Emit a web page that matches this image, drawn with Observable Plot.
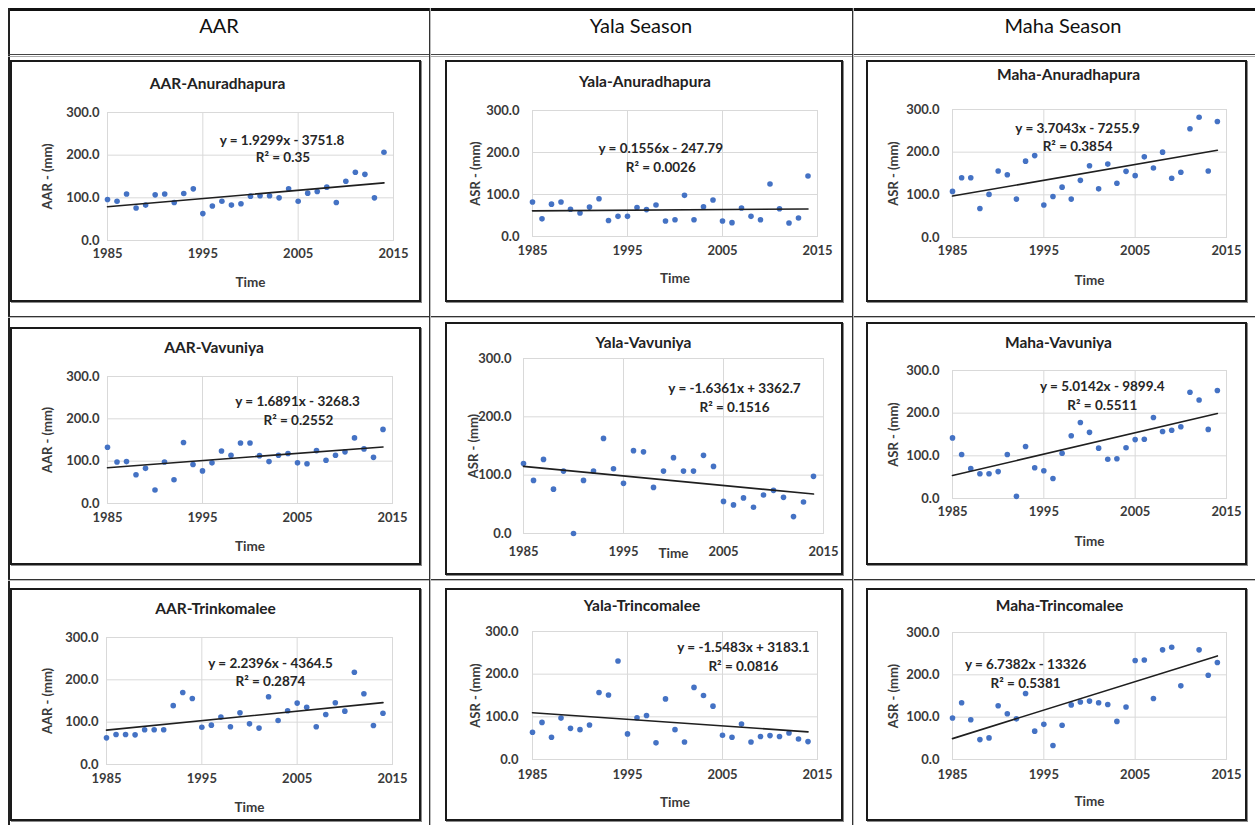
<!DOCTYPE html>
<html>
<head>
<meta charset="utf-8">
<script src="https://cdn.jsdelivr.net/npm/d3@7"></script>
<script src="https://cdn.jsdelivr.net/npm/@observablehq/plot@0.6"></script>
<style>
  html, body { margin: 0; padding: 0; background: #fff; }
  body { width: 1255px; height: 825px; position: relative; overflow: hidden; font-family: Lato, "Open Sans", sans-serif; }
  .abs { position: absolute; }
  .hdr { position: absolute; font-size: 20px; line-height: 22px; color: #111; text-align: center; top: 14px; }
  .box { position: absolute; box-sizing: border-box; border: 2px solid #1a1a1a; box-shadow: 1px 1px 0 #8a8a8a; pointer-events: none; }
  .panel { position: absolute; }
  .panel svg { overflow: visible; background: transparent; }
</style>
</head>
<body>
<script>
// ---- data ----
const years = [1985,1986,1987,1988,1989,1990,1991,1992,1993,1994,1995,1996,1997,1998,1999,
               2000,2001,2002,2003,2004,2005,2006,2007,2008,2009,2010,2011,2012,2013,2014];
const xTicks = [1985, 1995, 2005, 2015];
const yTicks = [0, 100, 200, 300];
const columnHeaders = ["AAR", "Yala Season", "Maha Season"];

const aarAnuradhapura  = [96,92,109,76,83,107,109,89,110,121,63,81,92,83,86,104,105,105,100,121,92,111,115,125,89,139,160,155,100,207];
const yalaAnuradhapura = [82,42,77,82,65,56,70,90,38,48,48,69,64,75,37,40,98,40,71,87,37,33,68,48,40,125,66,32,44,144];
const mahaAnuradhapura = [108,140,140,68,101,156,147,90,179,192,76,96,118,90,134,168,114,172,127,155,145,189,163,200,139,153,255,282,156,272];
const aarVavuniya      = [133,98,99,68,83,32,98,56,144,92,77,96,124,114,143,143,113,99,114,118,96,94,125,102,114,122,155,129,109,175];
const yalaVavuniya     = [120,91,127,76,107,0,91,107,163,111,86,142,140,79,107,130,107,107,134,115,55,49,61,45,66,74,62,29,54,98];
const mahaVavuniya     = [142,103,70,58,58,63,103,5,122,72,65,47,106,147,178,155,118,92,93,119,138,139,190,157,160,168,249,231,162,253];
const aarTrincomalee   = [63,71,71,70,82,82,82,139,170,156,88,93,112,89,122,96,86,160,104,127,145,135,89,118,146,126,218,167,92,121];
const yalaTrincomalee  = [64,87,52,97,73,70,81,157,151,231,60,98,103,39,142,70,41,169,150,125,57,52,83,41,54,56,54,62,48,42];
const mahaTrincomalee  = [98,134,94,47,51,127,108,96,156,67,83,33,81,129,136,138,134,130,90,124,234,235,144,259,265,174,null,259,199,229];

const titles = ["AAR-Anuradhapura","Yala-Anuradhapura","Maha-Anuradhapura",
                "AAR-Vavuniya","Yala-Vavuniya","Maha-Vavuniya",
                "AAR-Trinkomalee","Yala-Trincomalee","Maha-Trincomalee"];
const yLabels = ["AAR - (mm)","ASR - (mm)","ASR - (mm)","AAR - (mm)","ASR - (mm)","ASR - (mm)","AAR - (mm)","ASR - (mm)","ASR - (mm)"];
const series = [aarAnuradhapura, yalaAnuradhapura, mahaAnuradhapura, aarVavuniya, yalaVavuniya, mahaVavuniya, aarTrincomalee, yalaTrincomalee, mahaTrincomalee];
const slopes     = [1.9299, 0.1556, 3.7043, 1.6891, -1.6361, 5.0142, 2.2396, -1.5483, 6.7382];
const intercepts = [-3751.8, -247.79, -7255.9, -3268.3, 3362.7, -9899.4, -4364.5, 3183.1, -13326];
const equations  = ["y = 1.9299x - 3751.8","y = 0.1556x - 247.79","y = 3.7043x - 7255.9",
                    "y = 1.6891x - 3268.3","y = -1.6361x + 3362.7","y = 5.0142x - 9899.4",
                    "y = 2.2396x - 4364.5","y = -1.5483x + 3183.1","y = 6.7382x - 13326"];
const rSquared   = ["R² = 0.35","R² = 0.0026","R² = 0.3854","R² = 0.2552","R² = 0.1516","R² = 0.5511","R² = 0.2874","R² = 0.0816","R² = 0.5381"];

// ---- layout (pixels) ----
const layout = [
  {box:[10,60,411,242],  m:[97,28,52,62], yPad:8,  xPad:8,  titleDx:-33, titleDy:-28, yLabDx:-60, timeDy:42, eq:[2003.3,234], r2:[2003.4,193]},
  {box:[445,60,398,242], m:[87,26,50,66], yPad:13, xPad:9,  titleDx:-30, titleDy:-28, yLabDx:-57, timeDy:42, eq:[1998.5,208], r2:[1998.5,164]},
  {box:[866,60,381,242], m:[86,21,49,65], yPad:13, xPad:8,  titleDx:-21, titleDy:-34, yLabDx:-59, timeDy:43, eq:[1998.7,255], r2:[1998.7,214]},
  {box:[10,327,411,238], m:[97,29,49,62], yPad:8,  xPad:9,  titleDx:-36, titleDy:-28, yLabDx:-60, timeDy:43, eq:[2005.0,241], r2:[2005.1,196]},
  {box:[445,322,398,253],m:[78,20,36,42], yPad:12, xPad:13, titleDx:-30, titleDy:-15, yLabDx:-50, timeDy:20, eq:[2006.1,248], r2:[2006.1,215]},
  {box:[866,322,381,243],m:[86,21,48,67], yPad:13, xPad:8,  titleDx:-31, titleDy:-27, yLabDx:-59, timeDy:43, eq:[2001.4,262], r2:[2001.4,217]},
  {box:[10,588,411,233], m:[96,29,49,57], yPad:8,  xPad:9,  titleDx:-34, titleDy:-28, yLabDx:-59, timeDy:43, eq:[2002.2,239], r2:[2002.2,196]},
  {box:[445,588,398,233],m:[87,26,43,62], yPad:14, xPad:10, titleDx:-33, titleDy:-25, yLabDx:-57, timeDy:43, eq:[2007.2,261], r2:[2007.2,218]},
  {box:[866,588,381,233],m:[86,21,44,62], yPad:13, xPad:10, titleDx:-30, titleDy:-26, yLabDx:-59, timeDy:42, eq:[1993.0,223], r2:[1993.0,178]}
];

function addDiv(cls, css, text) {
  const d = document.createElement("div");
  d.className = cls;
  Object.assign(d.style, css);
  if (text != null) d.textContent = text;
  document.body.appendChild(d);
  return d;
}

// table grid lines
addDiv("abs", {left:"8px", top:"8px", width:"1260px", height:"3px", background:"#111"});
addDiv("abs", {left:"8px", top:"8px", width:"2px", height:"830px", background:"#222"});
addDiv("abs", {left:"8px", top:"54px", width:"1260px", height:"1px", background:"#444"});
addDiv("abs", {left:"8px", top:"56px", width:"1260px", height:"1px", background:"#aaa"});
[316, 579].forEach(y => {
  addDiv("abs", {left:"8px", top:y+"px", width:"1260px", height:"1px", background:"#333"});
  addDiv("abs", {left:"8px", top:(y+1)+"px", width:"1260px", height:"1px", background:"#bbb"});
});
[429, 852].forEach(x => {
  addDiv("abs", {left:x+"px", top:"8px", width:"1px", height:"830px", background:"#333"});
  addDiv("abs", {left:(x+1)+"px", top:"8px", width:"1px", height:"830px", background:"#bbb"});
});
const hdrCenters = [219, 641, 1063];
columnHeaders.forEach((h, i) => {
  addDiv("hdr", {left:(hdrCenters[i]-150)+"px", width:"300px"}, h);
});

function panel(i) {
  const L = layout[i];
  const [bx, by, bw, bh] = L.box;
  const [ml, mr, mt, mb] = L.m;
  const pts = years.map((yr, k) => ({year: yr, value: series[i][k]})).filter(d => d.value != null);
  const trend = [years[0], years[years.length - 1]].map(x => ({year: x, value: slopes[i] * x + intercepts[i]}));
  const labels = [
    {x: L.eq[0], y: L.eq[1], t: equations[i]},
    {x: L.r2[0], y: L.r2[1], t: rSquared[i]}
  ];
  const plot = Plot.plot({
    width: bw, height: bh,
    marginLeft: ml, marginRight: mr, marginTop: mt, marginBottom: mb,
    x: {domain: [1985, 2015]},
    y: {domain: [0, 300]},
    style: {fontFamily: "Lato, 'Open Sans', sans-serif", fontSize: "13px", fontWeight: "bold", color: "#3a3a3a", background: "transparent"},
    marks: [
      Plot.gridY(yTicks, {stroke: "#d9d9d9", strokeOpacity: 1, strokeWidth: 1}),
      Plot.gridX(xTicks, {stroke: "#d9d9d9", strokeOpacity: 1, strokeWidth: 1}),
      Plot.frame({stroke: "#d9d9d9"}),
      Plot.axisX(xTicks, {tickSize: 0, tickPadding: L.xPad, tickFormat: d => String(d), label: null, fontSize: 13, fontWeight: "bold", fill: "#3a3a3a"}),
      Plot.axisY(yTicks, {tickSize: 0, tickPadding: L.yPad, tickFormat: d => d.toFixed(1), label: null, fontSize: 13, fontWeight: "bold", fill: "#3a3a3a"}),
      Plot.dot(pts, {x: "year", y: "value", r: 2.8, fill: "#4472C4", stroke: "none"}),
      Plot.line(trend, {x: "year", y: "value", stroke: "#1f1f1f", strokeWidth: 1.6}),
      Plot.text(labels, {x: "x", y: "y", text: "t", fontSize: 13.5, fontWeight: "bold", fill: "#262626"}),
      Plot.text([titles[i]], {text: d => d, frameAnchor: "top", lineAnchor: "middle", textAnchor: "middle", dx: L.titleDx, dy: L.titleDy, fontSize: 15.5, fontWeight: "bold", fill: "#222"}),
      Plot.text(["Time"], {text: d => d, frameAnchor: "bottom", lineAnchor: "middle", textAnchor: "middle", dy: L.timeDy, fontSize: 13.5, fontWeight: "bold", fill: "#3a3a3a"}),
      Plot.text([yLabels[i]], {text: d => d, frameAnchor: "left", lineAnchor: "middle", textAnchor: "middle", dx: L.yLabDx, rotate: -90, fontSize: 13, fontWeight: "bold", fill: "#3a3a3a"})
    ]
  });
  const wrap = addDiv("panel", {left: bx + "px", top: by + "px", width: bw + "px", height: bh + "px"});
  wrap.appendChild(plot);
  addDiv("box", {left: bx + "px", top: by + "px", width: bw + "px", height: bh + "px"});
}

for (let i = 0; i < 9; i++) panel(i);
</script>
</body>
</html>
